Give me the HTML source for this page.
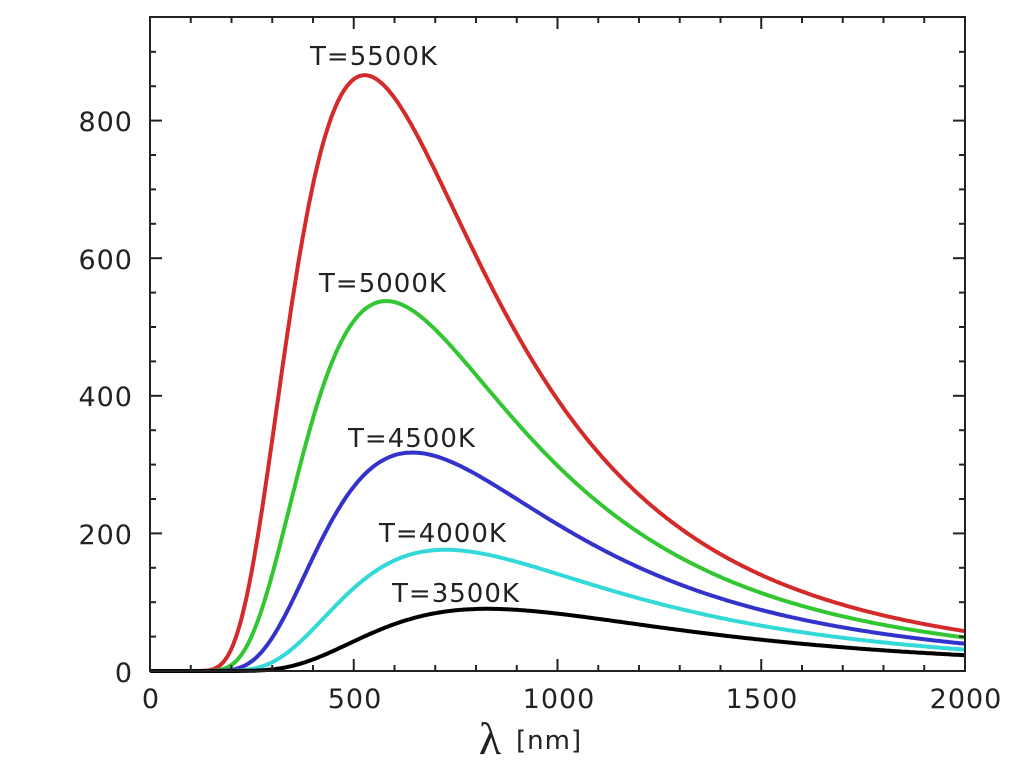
<!DOCTYPE html>
<html><head><meta charset="utf-8"><style>
html,body{margin:0;padding:0;background:#fff;}
svg{display:block;}
text{font-family:"DejaVu Sans","Liberation Sans",sans-serif;fill:#222;}
</style></head><body>
<svg id="s" width="1024" height="767" xmlns="http://www.w3.org/2000/svg">
<g id="curves" fill="none" stroke-width="4" stroke-linejoin="round"></g>
<rect x="150" y="17" width="815" height="654" fill="none" stroke="#222" stroke-width="2"/>
<g id="ticks" stroke="#222" stroke-width="2"></g>
<g font-size="27" text-anchor="end" letter-spacing="1">
<text x="133" y="131">800</text>
<text x="133" y="269">600</text>
<text x="133" y="406">400</text>
<text x="133" y="544">200</text>
<text x="133" y="682">0</text>
</g>
<g font-size="27" text-anchor="middle" letter-spacing="1">
<text x="151" y="708">0</text>
<text x="355" y="708">500</text>
<text x="559" y="708">1000</text>
<text x="762" y="708">1500</text>
<text x="966" y="708">2000</text>
</g>
<text x="490" y="754" font-size="46" text-anchor="middle" style="font-family:'Liberation Serif',serif">λ</text>
<text x="516" y="749" font-size="26" letter-spacing="1">[nm]</text>
<g font-size="26" text-anchor="middle" letter-spacing="1">
<text x="374" y="65">T=5500K</text>
<text x="383" y="292">T=5000K</text>
<text x="412" y="447">T=4500K</text>
<text x="443" y="542">T=4000K</text>
<text x="456" y="602">T=3500K</text>
</g>
</svg>
<script>
var X=function(l){return 150+l*815/2000;},Y=function(v){return 671-v*0.688;};
var c=14388000;
function B(l,T){return Math.pow(l,-5)/(Math.exp(c/(l*T))-1);}
var norm=866/B(2898000/5500,5500);
var series=[[5500,"#d42a2a"],[5000,"#33c633"],[4500,"#3333cc"],[4000,"#33d8d8"],[3500,"#000"]];
var g=document.getElementById("curves");
series.forEach(function(s){
 var d="M150,"+Y(0).toFixed(1);
 for(var l=5;l<=2000;l+=5){d+="L"+X(l).toFixed(1)+","+Y(B(l,s[0])*norm).toFixed(1);}
 var p=document.createElementNS("http://www.w3.org/2000/svg","path");
 p.setAttribute("d",d);p.setAttribute("stroke",s[1]);g.appendChild(p);
});
var t=document.getElementById("ticks"),h="";
for(var l=100;l<2000;l+=100){var x=X(l),L=(l%500==0)?12:6;
 h+='<line x1="'+x+'" y1="671" x2="'+x+'" y2="'+(671-L)+'"/><line x1="'+x+'" y1="17" x2="'+x+'" y2="'+(17+L)+'"/>';}
for(var v=50;v<950;v+=50){var y=Y(v),L=(v%200==0)?12:6;
 h+='<line x1="150" y1="'+y+'" x2="'+(150+L)+'" y2="'+y+'"/><line x1="965" y1="'+y+'" x2="'+(965-L)+'" y2="'+y+'"/>';}
t.innerHTML=h;
</script>
</body></html>
